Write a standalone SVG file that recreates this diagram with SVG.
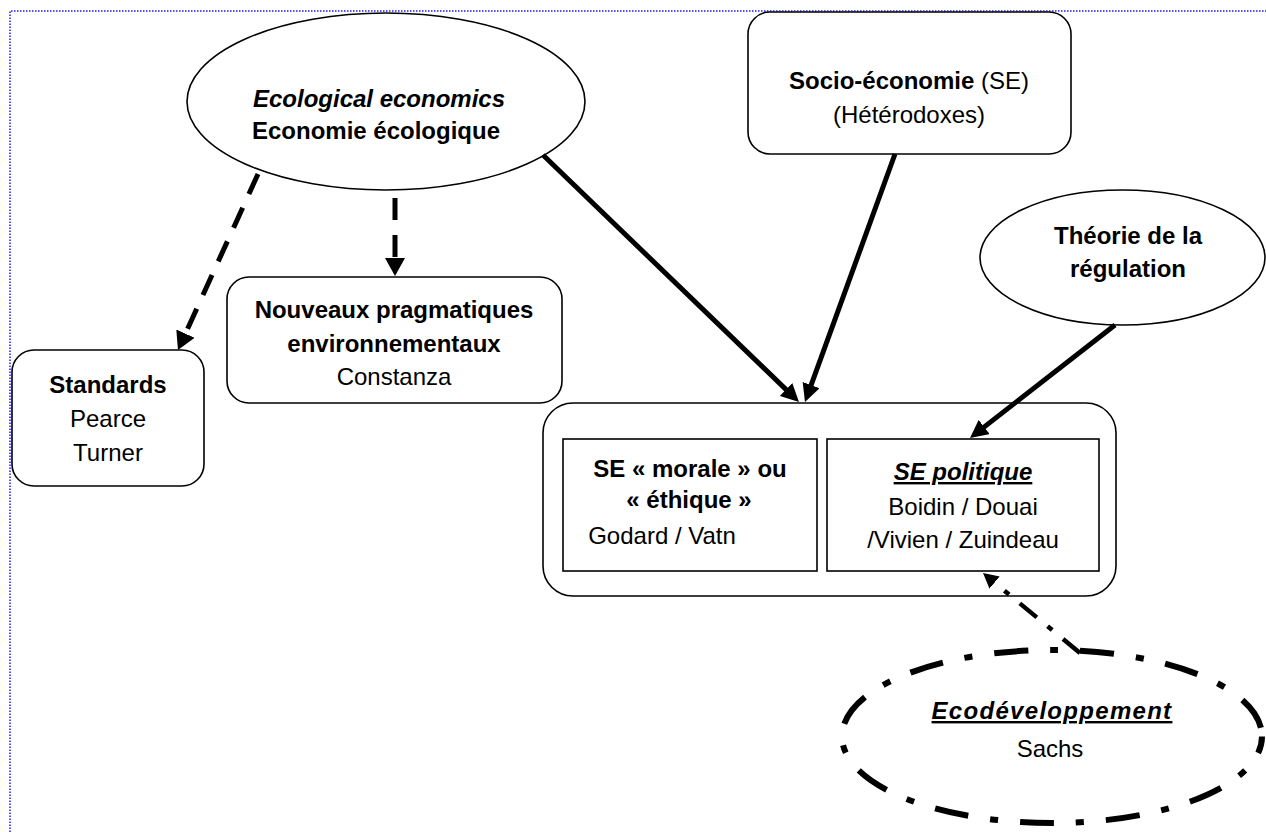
<svg xmlns="http://www.w3.org/2000/svg" width="1266" height="832" viewBox="0 0 1266 832">
<defs>
<style>
text{font-family:"Liberation Sans","DejaVu Sans",sans-serif;font-size:24px;fill:#000;text-anchor:middle}
.b{font-weight:bold}
.bi{font-weight:bold;font-style:italic}
.u{text-decoration:underline}
.shape{fill:#fff;stroke:#000;stroke-width:1.6}
.conn{fill:none;stroke:#000;stroke-width:5}
.dash{stroke-dasharray:22 15}
.dashdot{stroke-width:4.5;stroke-dasharray:22 14 6 14}
</style>
<marker id="ah" markerUnits="userSpaceOnUse" markerWidth="18" markerHeight="18" refX="8" refY="9" orient="auto"><path d="M0,0 L18,9 L0,18 z" fill="#000"/></marker>
<marker id="ahb" markerUnits="userSpaceOnUse" markerWidth="18" markerHeight="20" refX="8" refY="10" orient="auto"><path d="M0,0 L18,10 L0,20 z" fill="#000"/></marker>
<marker id="ahs" markerUnits="userSpaceOnUse" markerWidth="15" markerHeight="16" refX="7" refY="8" orient="auto"><path d="M0,0 L15,8 L0,16 z" fill="#000"/></marker>
</defs>
<rect width="1266" height="832" fill="#fff"/>
<path d="M10,832 V11 H1266" fill="none" stroke="#1a1aff" stroke-width="1.5" stroke-dasharray="1.5 1.5"/>

<g id="ecological">
<ellipse class="shape" cx="386" cy="101.5" rx="199" ry="88.5"/>
<text class="bi" x="379" y="107" font-size="22">Ecological economics</text>
<text class="b" x="376" y="139" font-size="22">Economie écologique</text>
</g>

<g id="socio">
<rect class="shape" x="748" y="12" width="323" height="142" rx="22"/>
<text x="909" y="89"><tspan class="b">Socio-économie</tspan> (SE)</text>
<text x="909" y="123">(Hétérodoxes)</text>
</g>

<g id="theorie">
<ellipse class="shape" cx="1122.5" cy="257.5" rx="142.5" ry="67.5"/>
<text class="b" x="1128" y="244">Théorie de la</text>
<text class="b" x="1128" y="277">régulation</text>
</g>

<g id="nouveaux">
<rect class="shape" x="227" y="277" width="335" height="126" rx="22"/>
<text class="b" x="394" y="318">Nouveaux pragmatiques</text>
<text class="b" x="394" y="352">environnementaux</text>
<text x="394" y="385">Constanza</text>
</g>

<g id="standards">
<rect class="shape" x="12" y="350" width="192" height="136" rx="22"/>
<text class="b" x="108" y="393">Standards</text>
<text x="108" y="427">Pearce</text>
<text x="108" y="461">Turner</text>
</g>

<g id="se">
<rect class="shape" x="543" y="403" width="573" height="193" rx="30"/>
</g>

<g id="se-morale">
<rect class="shape" x="563" y="439" width="254" height="132"/>
<text class="b" x="690" y="477" font-size="25">SE « morale » ou</text>
<text class="b" x="689" y="508" font-size="25">« éthique »</text>
<text x="662" y="544" font-size="24.5">Godard / Vatn</text>
</g>

<g id="se-politique">
<rect class="shape" x="827" y="439" width="272" height="132" stroke-width="3.2"/>
<text class="bi u" x="963" y="480" font-size="26">SE politique</text>
<text x="963" y="515" font-size="24.5">Boidin / Douai</text>
<text x="963" y="548" font-size="25.5">/Vivien / Zuindeau</text>
</g>

<g id="ecodeveloppement">
<ellipse cx="1052" cy="736.5" rx="210" ry="86.5" fill="none" stroke="#000" stroke-width="6" stroke-dasharray="34 22 8 22" stroke-dashoffset="17"/>
<text class="bi u" x="1052" y="719" font-size="28" letter-spacing="1.3">Ecodéveloppement</text>
<text x="1050" y="757" font-size="25.5">Sachs</text>
</g>

<g id="connectors">
<path class="conn dash" d="M258,174 L182.1,340.9" marker-end="url(#ahb)"/>
<path class="conn dash" d="M395,198 L395,266" marker-end="url(#ahb)"/>
<path class="conn" d="M543,155 L791.8,395.1" marker-end="url(#ah)"/>
<path class="conn" d="M895,154 L808.4,392.6" marker-end="url(#ah)"/>
<path class="conn" d="M1115,325 L977.9,431.9" marker-end="url(#ah)"/>
<path class="conn dashdot" d="M1080,653 L989.2,578.1" marker-end="url(#ahs)"/>
</g>
</svg>
